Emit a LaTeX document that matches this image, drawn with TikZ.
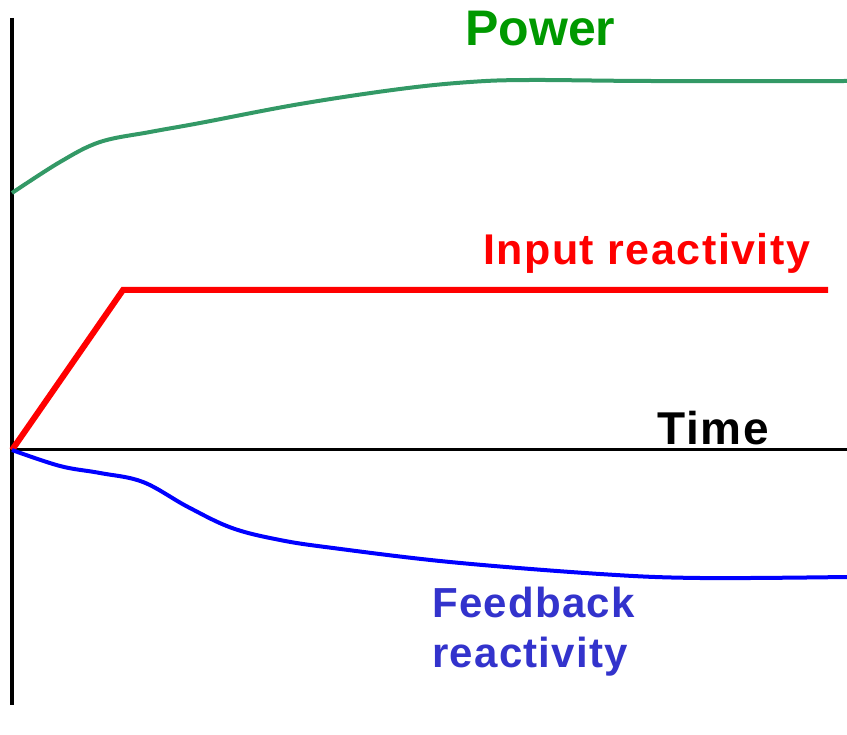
\documentclass[tikz,border=0pt]{standalone}
\usepackage{fontspec}
\setmainfont{Liberation Sans}
\definecolor{powerline}{HTML}{339966}
\definecolor{powertext}{HTML}{009900}
\definecolor{inputred}{HTML}{FF0000}
\definecolor{fbline}{HTML}{0000FF}
\definecolor{fbtext}{HTML}{3333CC}
\tikzset{
  axisline/.style={black, line width=#1},
  curve/.style={line width=4pt, line join=round},
  lbl/.style={inner sep=0pt, anchor=base west, font=\bfseries}
}
\begin{document}
\begin{tikzpicture}[x=1pt, y=-1pt]
  \useasboundingbox (0,0) rectangle (847,735);
  % axes
  \coordinate (orig) at (12,450);
  \coordinate (ytop) at (12,18);
  \coordinate (ybot) at (12,705);
  \coordinate (xend) at (847,450);
  \draw[axisline=4pt] (ytop) -- (ybot);
  \draw[axisline=3pt] (orig) -- (xend);
  % power
  \draw[curve, powerline] plot[smooth, tension=0.6] coordinates {
    (12,193) (60,162) (100,142) (150,132) (200,123)
    (300,104) (400,89) (470,82) (530,80) (650,81) (847,81)};
  % input reactivity
  \coordinate (knee) at (123,290);
  \coordinate (iend) at (828,290);
  \draw[inputred, line width=6pt] (orig) -- (knee) -- (iend);
  % feedback reactivity
  \draw[curve, fbline] plot[smooth, tension=0.6] coordinates {
    (12,450) (60,466) (100,473) (143,482) (188,507) (232,528)
    (280,540) (333,548) (450,562) (600,574) (700,578) (847,577)};
  % labels
  \node[lbl, powertext, font=\bfseries\fontsize{50}{50}\selectfont] (power) at (465,46) {Power};
  \node[lbl, inputred, font=\bfseries\fontsize{43}{43}\selectfont\addfontfeatures{LetterSpace=3.5}] (input) at (483,265) {Input reactivity};
  \node[lbl, black, font=\bfseries\fontsize{46}{46}\selectfont\addfontfeatures{LetterSpace=4}] (time) at (657,445) {Time};
  \node[lbl, fbtext, font=\bfseries\fontsize{42}{42}\selectfont\addfontfeatures{LetterSpace=3}] (fb1) at (432,617) {Feedback};
  \node[lbl, fbtext, font=\bfseries\fontsize{42}{42}\selectfont\addfontfeatures{LetterSpace=3}] (fb2) at (432,667) {reactivity};
\end{tikzpicture}
\end{document}
